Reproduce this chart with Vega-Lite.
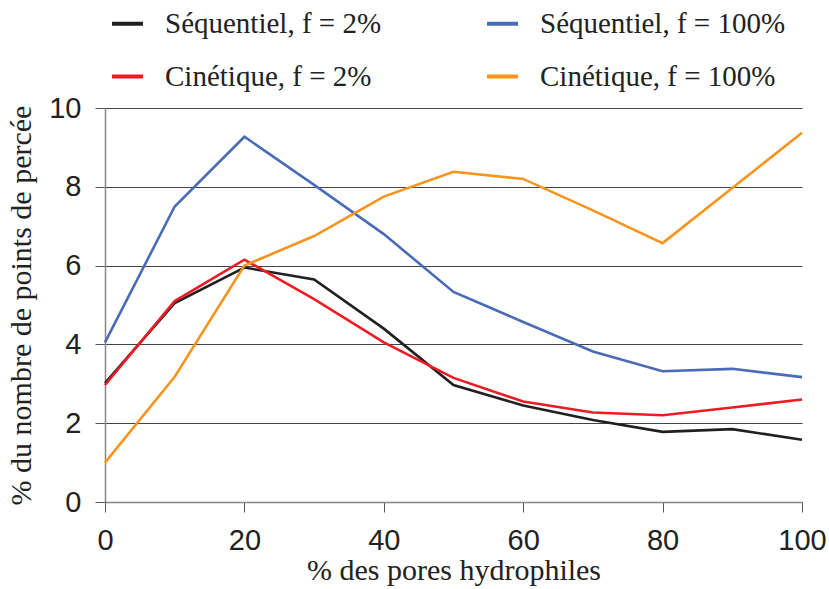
{
  "$schema": "https://vega.github.io/schema/vega-lite/v6.json",
  "autosize": "none",
  "width": 697,
  "height": 394,
  "padding": {"left": 105, "top": 108, "right": 27, "bottom": 87},
  "background": "white",
  "data": {"values": [
    {"x": 0, "y": 3.02, "s": "Séquentiel, f = 2%"},
    {"x": 10, "y": 5.05, "s": "Séquentiel, f = 2%"},
    {"x": 20, "y": 5.95, "s": "Séquentiel, f = 2%"},
    {"x": 30, "y": 5.65, "s": "Séquentiel, f = 2%"},
    {"x": 40, "y": 4.4, "s": "Séquentiel, f = 2%"},
    {"x": 50, "y": 2.97, "s": "Séquentiel, f = 2%"},
    {"x": 60, "y": 2.45, "s": "Séquentiel, f = 2%"},
    {"x": 70, "y": 2.08, "s": "Séquentiel, f = 2%"},
    {"x": 80, "y": 1.78, "s": "Séquentiel, f = 2%"},
    {"x": 90, "y": 1.85, "s": "Séquentiel, f = 2%"},
    {"x": 100, "y": 1.58, "s": "Séquentiel, f = 2%"},
    {"x": 0, "y": 4.05, "s": "Séquentiel, f = 100%"},
    {"x": 10, "y": 7.5, "s": "Séquentiel, f = 100%"},
    {"x": 20, "y": 9.27, "s": "Séquentiel, f = 100%"},
    {"x": 30, "y": 8.05, "s": "Séquentiel, f = 100%"},
    {"x": 40, "y": 6.8, "s": "Séquentiel, f = 100%"},
    {"x": 50, "y": 5.33, "s": "Séquentiel, f = 100%"},
    {"x": 60, "y": 4.57, "s": "Séquentiel, f = 100%"},
    {"x": 70, "y": 3.82, "s": "Séquentiel, f = 100%"},
    {"x": 80, "y": 3.32, "s": "Séquentiel, f = 100%"},
    {"x": 90, "y": 3.38, "s": "Séquentiel, f = 100%"},
    {"x": 100, "y": 3.17, "s": "Séquentiel, f = 100%"},
    {"x": 0, "y": 2.97, "s": "Cinétique, f = 2%"},
    {"x": 10, "y": 5.1, "s": "Cinétique, f = 2%"},
    {"x": 20, "y": 6.15, "s": "Cinétique, f = 2%"},
    {"x": 30, "y": 5.15, "s": "Cinétique, f = 2%"},
    {"x": 40, "y": 4.05, "s": "Cinétique, f = 2%"},
    {"x": 50, "y": 3.15, "s": "Cinétique, f = 2%"},
    {"x": 60, "y": 2.55, "s": "Cinétique, f = 2%"},
    {"x": 70, "y": 2.27, "s": "Cinétique, f = 2%"},
    {"x": 80, "y": 2.2, "s": "Cinétique, f = 2%"},
    {"x": 90, "y": 2.4, "s": "Cinétique, f = 2%"},
    {"x": 100, "y": 2.6, "s": "Cinétique, f = 2%"},
    {"x": 0, "y": 1.0, "s": "Cinétique, f = 100%"},
    {"x": 10, "y": 3.18, "s": "Cinétique, f = 100%"},
    {"x": 20, "y": 6.0, "s": "Cinétique, f = 100%"},
    {"x": 30, "y": 6.75, "s": "Cinétique, f = 100%"},
    {"x": 40, "y": 7.75, "s": "Cinétique, f = 100%"},
    {"x": 50, "y": 8.38, "s": "Cinétique, f = 100%"},
    {"x": 60, "y": 8.2, "s": "Cinétique, f = 100%"},
    {"x": 70, "y": 7.4, "s": "Cinétique, f = 100%"},
    {"x": 80, "y": 6.57, "s": "Cinétique, f = 100%"},
    {"x": 90, "y": 7.97, "s": "Cinétique, f = 100%"},
    {"x": 100, "y": 9.37, "s": "Cinétique, f = 100%"}
  ]},
  "mark": {"type": "line", "strokeWidth": 2.6},
  "encoding": {
    "x": {
      "field": "x", "type": "quantitative",
      "scale": {"domain": [0, 100], "nice": false},
      "axis": {
        "title": "% des pores hydrophiles",
        "values": [0, 20, 40, 60, 80, 100],
        "grid": false,
        "domainColor": "#888", "domainWidth": 1.5,
        "tickColor": "#555", "tickSize": 10, "tickWidth": 1,
        "labelFont": "Liberation Sans, Arial, sans-serif", "labelFontSize": 29, "labelColor": "#222",
        "labelPadding": 14, "labelFlush": false,
        "titleFont": "Times New Roman, Liberation Serif, serif", "titleFontSize": 30, "titleFontWeight": "normal",
        "titleColor": "#222", "titlePadding": 0
      }
    },
    "y": {
      "field": "y", "type": "quantitative",
      "scale": {"domain": [0, 10], "nice": false},
      "axis": {
        "title": "% du nombre de points de percée",
        "values": [0, 2, 4, 6, 8, 10],
        "grid": true, "gridColor": "#444", "gridWidth": 1.2,
        "domainColor": "#888", "domainWidth": 1.5,
        "tickColor": "#555", "tickSize": 10, "tickWidth": 1,
        "labelFont": "Liberation Sans, Arial, sans-serif", "labelFontSize": 29, "labelColor": "#222",
        "labelPadding": 14,
        "titleFont": "Times New Roman, Liberation Serif, serif", "titleFontSize": 30, "titleFontWeight": "normal",
        "titleColor": "#222", "titlePadding": 12
      }
    },
    "color": {
      "field": "s", "type": "nominal",
      "scale": {
        "domain": ["Séquentiel, f = 2%", "Cinétique, f = 2%", "Séquentiel, f = 100%", "Cinétique, f = 100%"],
        "range": ["#231f20", "#ed1c24", "#4a6cb6", "#f7941d"]
      },
      "legend": {
        "title": null,
        "orient": "none",
        "legendX": 5,
        "legendY": -102,
        "columns": 2,
        "columnPadding": 97,
        "rowPadding": 20,
        "symbolType": "stroke",
        "symbolSize": 960,
        "symbolStrokeWidth": 4,
        "labelFont": "Times New Roman, Liberation Serif, serif",
        "labelFontSize": 29,
        "labelColor": "#222",
        "labelOffset": 20,
        "labelLimit": 400
      }
    }
  },
  "config": {"view": {"stroke": null}}
}
